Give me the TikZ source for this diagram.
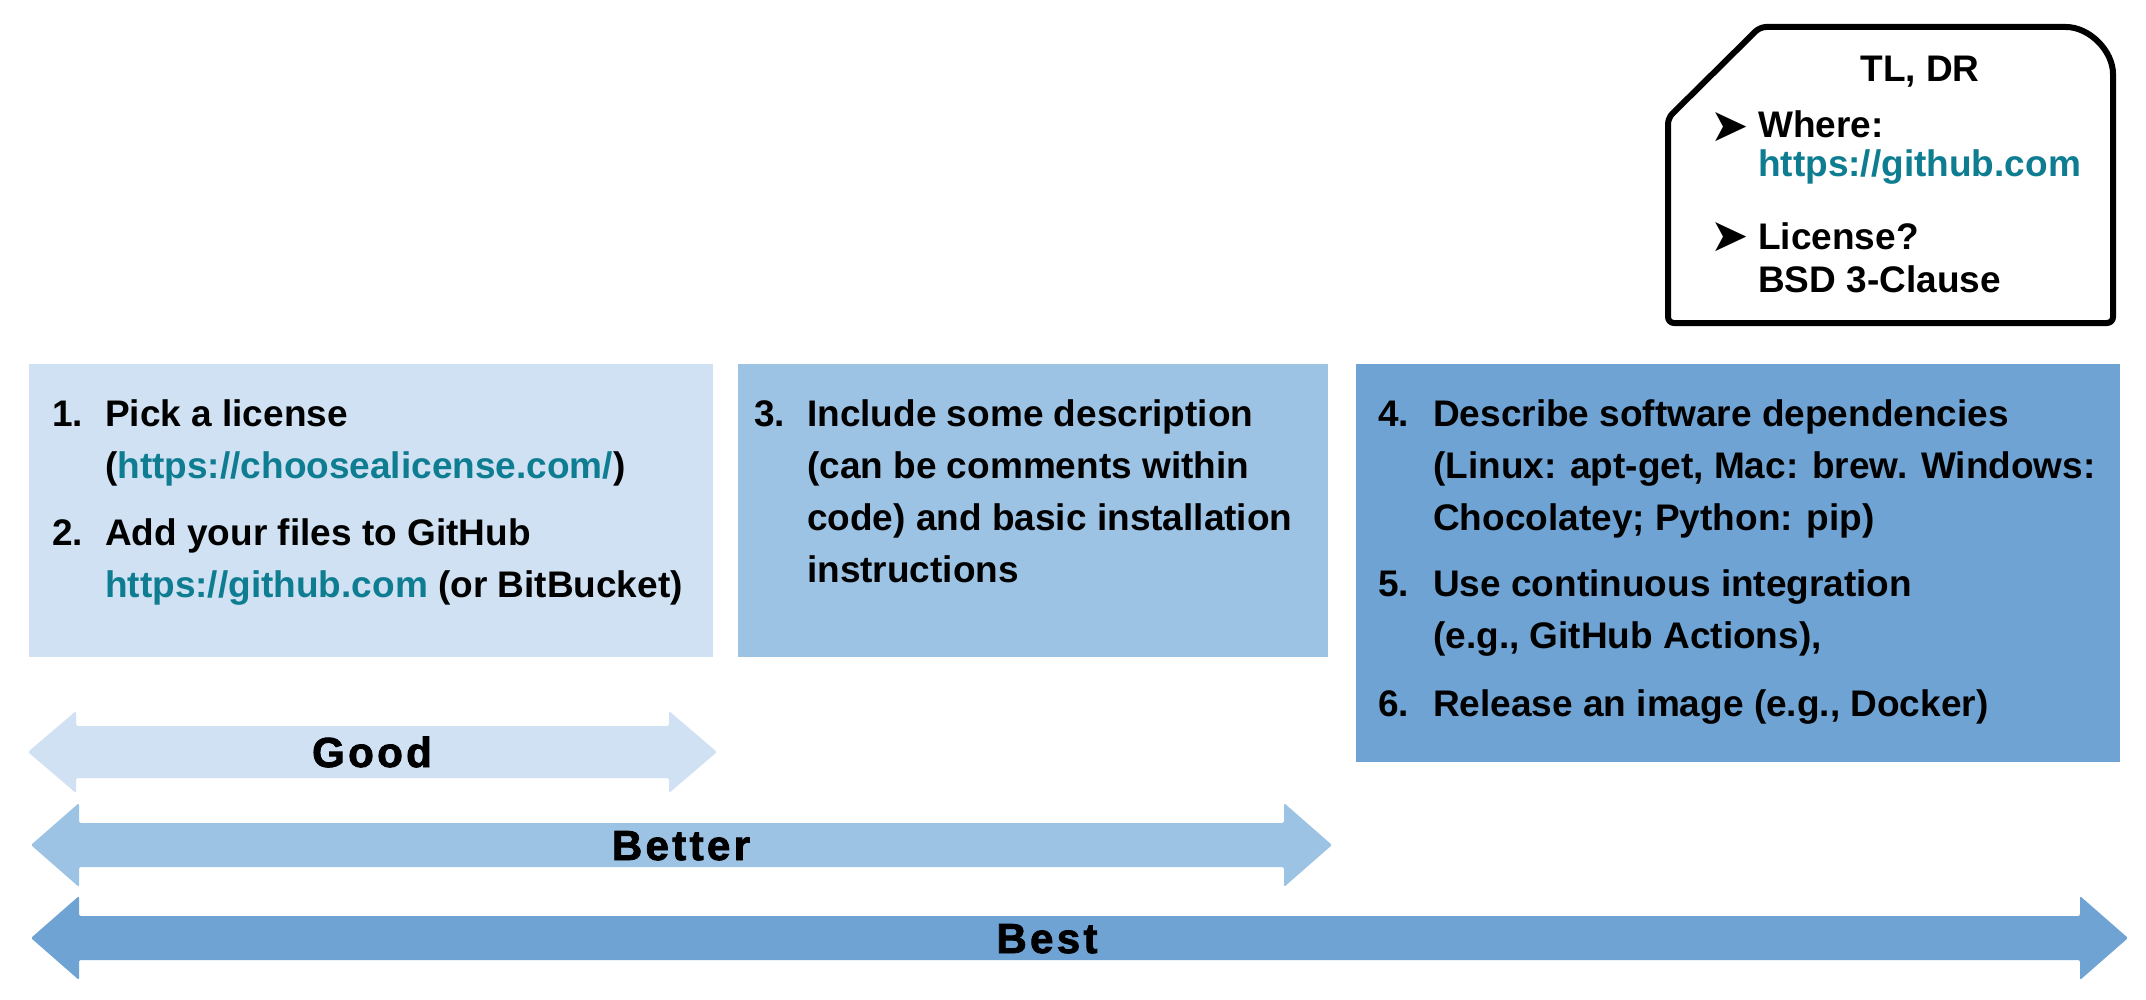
\documentclass[tikz,border=0pt]{standalone}
\usepackage{fontspec}
\setmainfont{Liberation Sans}
\newfontfamily\spacedfont{Liberation Sans}[LetterSpace=8,FakeBold=2]
\newfontfamily\symfont{DejaVu Sans}
\definecolor{goodc}{HTML}{CFE1F2}
\definecolor{betterc}{HTML}{9DC3E4}
\definecolor{bestc}{HTML}{6EA3D4}
\definecolor{linkc}{HTML}{0E7D91}
\newcommand\urltxt[1]{{\color{linkc}#1}}
\begin{document}
\begin{tikzpicture}[x=1pt,y=-1pt,
  txt/.style={anchor=base west, inner sep=0pt, font=\bfseries\fontsize{37}{44}\selectfont},
  lbl/.style={anchor=base, inner sep=0pt, font=\spacedfont\bfseries\fontsize{42}{46}\selectfont},
  bul/.style={anchor=center, inner sep=0pt, font=\symfont\fontsize{46}{50}\selectfont},
  panel/.style={inner sep=0pt, outer sep=0pt}]
\useasboundingbox (0,0) rectangle (2146,1000);
\fill[white] (0,0) rectangle (2146,1000);

% panels
\fill[goodc] (29,364) rectangle (713,657);
\fill[betterc] (738,364) rectangle (1328,657);
\fill[bestc] (1356,364) rectangle (2120,762);

% panel 1
\node[txt] (n1) at (52,426) {1.};
\node[txt] (t1a) at (105,426) {Pick a license};
\node[txt] (t1b) at (105,478) {(\urltxt{https://choosealicense.com/})};
\node[txt] (n2) at (52,545) {2.};
\node[txt] (t2a) at (105,545) {Add your files to GitHub};
\node[txt] (t2b) at (105,597) {\urltxt{https://github.com} (or BitBucket)};

% panel 2
\node[txt] (n3) at (754,426) {3.};
\node[txt] (t3a) at (807,426) {Include some description};
\node[txt] (t3b) at (807,478) {(can be comments within};
\node[txt] (t3c) at (807,530) {code) and basic installation};
\node[txt] (t3d) at (807,582) {instructions};

% panel 3
\node[txt] (n4) at (1378,426) {4.};
\node[txt] (t4a) at (1433,426) {Describe software dependencies};
\node[txt] (t4b) at (1433,478) {(Linux: apt-get, Mac: brew. Windows:};
\node[txt] (t4c) at (1433,530) {Chocolatey; Python: pip)};
\node[txt] (n5) at (1378,596) {5.};
\node[txt] (t5a) at (1433,596) {Use continuous integration};
\node[txt] (t5b) at (1433,648) {(e.g., GitHub Actions),};
\node[txt] (n6) at (1378,716) {6.};
\node[txt] (t6a) at (1433,716) {Release an image (e.g., Docker)};

% arrows
\fill[goodc, rounded corners=2pt] (28,752) -- (76,711) -- (76,726) -- (669,726) -- (669,711) -- (717,752) -- (669,793) -- (669,778) -- (76,778) -- (76,793) -- cycle;
\fill[betterc, rounded corners=2pt] (31,845) -- (79,803) -- (79,823) -- (1284,823) -- (1284,803) -- (1332,845) -- (1284,887) -- (1284,867) -- (79,867) -- (79,887) -- cycle;
\fill[bestc, rounded corners=2pt] (31,938) -- (79,896) -- (79,916) -- (2080,916) -- (2080,896) -- (2128,938) -- (2080,980) -- (2080,960) -- (79,960) -- (79,980) -- cycle;
\node[lbl] (good) at (372,767) {Good};
\node[lbl] (better) at (681,860) {Better};
\node[lbl] (best) at (1047,953) {Best};

% TL;DR card
\draw[line width=6pt, rounded corners=6pt, line join=round]
  (1668,323) -- (1668,118) -- (1760,27) -- (2060,27)
  arc[start angle=-90, end angle=0, radius=53] -- (2113,323) -- cycle;
\node[anchor=base, inner sep=0pt, font=\bfseries\fontsize{37}{44}\selectfont] (tldr) at (1920,82) {TL, DR};
\node[bul] (b1) at (1730,127) {➤};
\node[txt] (w1) at (1758,138) {Where:};
\node[txt] (w2) at (1758,177) {\urltxt{https://github.com}};
\node[bul] (b2) at (1730,237) {➤};
\node[txt] (l1) at (1758,250) {License?};
\node[txt] (l2) at (1758,293) {BSD 3-Clause};
\end{tikzpicture}
\end{document}
